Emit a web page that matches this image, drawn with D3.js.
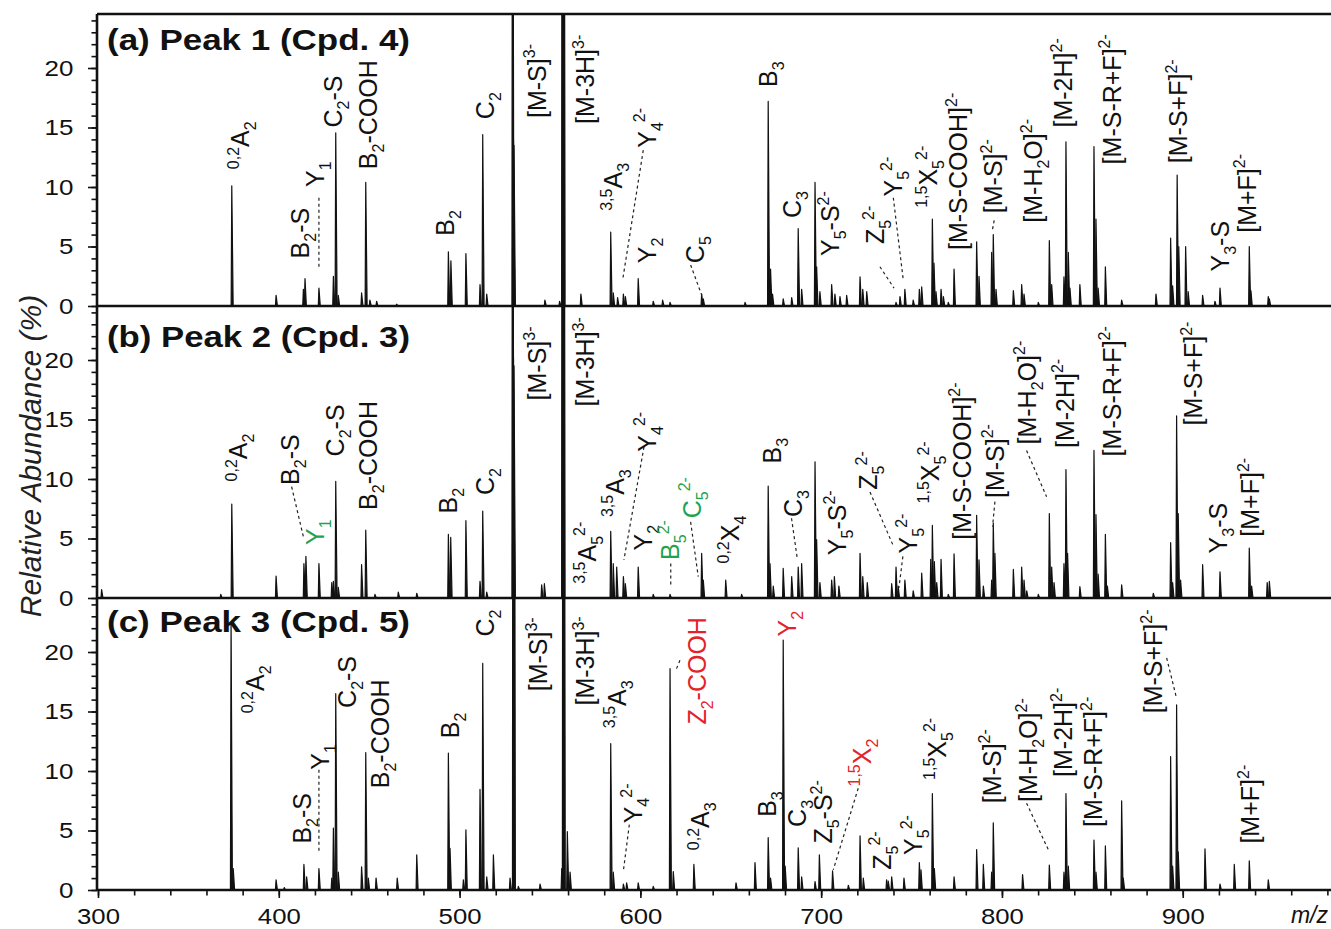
<!DOCTYPE html>
<html>
<head>
<meta charset="utf-8">
<script src="https://cdn.jsdelivr.net/npm/d3@7"></script>
<style>
  body { margin: 0; background: #fff; }
  svg { font-family: "Liberation Sans", Arial, sans-serif; }
</style>
</head>
<body>
<div id="chart"></div>
<script>
// peak lists: [m/z, relative abundance %]
const peaksA = [
  [374.0,10.1],[398.5,0.9],[413.6,1.4],[414.5,2.3],[422.2,1.5],[430.2,2.5],[431.5,14.55],[432.9,0.9],[445.8,1.1],[448.1,10.4],[450.4,0.5],[454.1,0.4],[465.2,0.15],
  [493.8,4.55],[495.2,3.8],[503.5,4.4],[511.3,1.8],[512.8,14.4],[515.0,1.0],
  [529.3,60],[529.8,14.0],[530.1,13.5],[547.2,0.5],[555.3,0.4],[556.8,80],[557.2,80],[557.6,80],[567.1,1.0],
  [583.6,6.2],[585.0,1.1],[587.4,0.7],[590.6,1.0],[591.7,0.8],[598.8,2.3],[607.1,0.4],[612.3,0.5],[616.4,0.3],[633.9,1.0],[634.8,0.6],[657.9,0.3],
  [670.7,17.2],[672.0,3.1],[673.1,1.0],[679.0,0.6],[683.7,0.7],[687.3,6.5],[689.2,1.4],[696.6,10.4],[697.5,3.3],[699.3,1.2],[705.8,1.8],[707.6,1.0],[710.4,0.8],[714.1,0.9],[721.5,2.45],[723.0,1.4],[725.2,1.2],
  [741.4,0.3],[743.6,0.8],[746.3,1.4],[750.9,0.5],[754.3,1.4],[755.6,1.6],[761.5,7.3],[762.4,3.6],[763.5,1.2],[766.3,1.4],[767.6,0.8],[770.3,0.3],[773.5,3.1],
  [786.0,5.4],[787.3,2.5],[794.3,4.5],[795.2,6.0],[796.7,1.4],[806.3,1.3],[810.9,1.8],[812.2,1.0],[820.1,0.3],[826.2,5.5],[827.5,1.8],
  [834.3,2.45],[835.4,13.8],[836.7,4.5],[837.6,1.5],[843.1,1.8],[850.9,13.4],[852.0,7.3],[853.2,1.5],[857.2,3.3],[866.2,0.5],[885.2,1.0],
  [893.3,5.7],[894.4,1.7],[896.9,11.0],[897.8,5.0],[901.6,5.0],[903.0,1.2],[911.0,0.9],[917.8,0.4],[920.6,1.5],[936.8,5.0],[937.7,1.3],[947.3,0.8],[947.9,0.6]
];
const peaksB = [
  [302.0,0.7],[367.9,0.3],[374.0,7.9],[398.5,1.85],[413.9,2.9],[415.0,3.5],[422.2,2.9],[429.3,1.3],[430.2,1.4],[431.5,9.8],[432.9,0.9],[445.8,2.8],[448.1,5.7],[453.2,0.3],[466.1,0.5],[476.3,0.4],
  [493.8,5.35],[495.1,5.1],[503.5,6.5],[511.3,1.4],[512.8,7.3],[515.0,0.5],
  [529.3,60],[529.8,20.2],[530.1,19.5],[545.4,1.1],[546.9,1.2],[556.8,80],[557.2,80],[557.6,80],
  [583.6,5.6],[585.0,2.9],[586.9,2.6],[590.6,1.8],[591.7,1.2],[598.8,2.6],[607.1,0.3],[616.4,0.3],[633.9,3.75],[634.8,1.5],[647.2,1.5],[656.0,0.3],
  [670.7,9.4],[671.7,2.9],[673.5,1.0],[679.0,2.5],[683.7,1.8],[687.3,2.6],[689.2,2.9],[696.6,11.45],[697.5,4.9],[699.3,1.3],[705.8,1.5],[707.3,1.8],[709.8,1.0],[721.5,3.75],[723.0,1.8],[725.5,1.3],
  [739.0,1.2],[741.4,2.6],[742.6,1.0],[746.3,1.5],[750.9,0.6],[755.6,2.1],[760.6,3.25],[761.5,6.1],[762.6,3.05],[763.9,1.3],[766.3,3.25],[770.3,0.3],[773.5,3.7],
  [786.0,6.95],[787.3,3.2],[789.7,1.0],[794.3,1.5],[795.2,6.3],[796.1,3.75],[806.3,2.4],[810.9,2.6],[812.2,1.5],[813.7,0.6],[820.1,0.3],[826.2,7.1],[827.5,2.6],[828.8,1.3],
  [834.3,2.9],[835.4,10.8],[836.3,3.75],[843.1,0.95],[850.9,12.4],[852.0,7.0],[853.2,2.0],[857.2,5.35],[858.3,1.0],[866.2,1.1],[883.7,0.4],
  [893.3,4.65],[894.4,1.3],[896.6,15.3],[897.5,7.1],[898.8,1.5],[911.0,2.8],[920.6,2.2],[936.8,4.2],[938.1,1.0],[946.7,1.3],[947.9,1.4]
];
const peaksC = [
  [373.6,22.5],[374.8,1.8],[398.5,0.85],[403.0,0.2],[413.9,2.15],[415.4,1.1],[422.2,1.8],[429.3,1.0],[430.2,5.2],[431.5,16.5],[432.9,1.5],[445.8,1.95],[448.1,11.55],[449.5,1.0],[453.8,1.0],[465.5,1.0],[476.3,2.95],
  [493.8,11.5],[494.7,3.5],[502.1,0.85],[503.5,5.05],[511.3,8.45],[512.8,19.05],[515.0,1.1],[518.7,2.95],[527.9,1.0],
  [529.6,80],[530.1,80],[532.5,0.3],[544.5,0.5],[556.5,1.8],[557.2,80],[557.7,80],[559.6,4.9],[561.1,1.5],
  [583.6,12.3],[585.0,1.5],[590.6,0.5],[592.4,0.6],[598.8,0.6],[607.1,0.3],[616.4,18.6],[618.2,1.55],[629.6,2.15],[652.9,0.6],
  [663.4,2.3],[670.7,4.4],[672.0,1.0],[679.0,21.0],[680.1,2.0],[687.3,3.55],[689.2,1.1],[696.6,0.7],[699.0,2.95],[706.3,1.6],[715.0,0.4],[721.5,4.55],[723.3,1.0],
  [736.2,0.85],[737.1,0.75],[739.0,1.1],[745.8,1.0],[754.3,2.3],[755.2,1.7],[761.5,8.1],[762.6,1.8],[773.5,1.1],
  [786.0,3.4],[789.7,2.15],[794.3,1.5],[795.2,5.65],[811.4,1.3],[826.2,2.1],[834.3,1.5],[835.4,8.1],[836.7,2.0],[850.9,4.2],[852.0,1.5],[857.2,3.7],[866.2,7.5],[867.1,1.0],
  [893.3,11.2],[894.4,2.0],[896.6,15.55],[897.5,3.2],[912.3,3.45],[920.6,0.5],[928.5,2.15],[936.8,2.45],[947.3,0.85]
];

// fragment labels: [text, m/z, abundance at label foot, tone]
const labelsA = [
  ["^{0,2}A_{2}",378.8,11.5],["B_{2}-S",411.7,4.0],["Y_{1}",420.0,10.0],["C_{2}-S",430.1,15.0],["B_{2}-COOH",449.5,11.5],
  ["B_{2}",491.9,5.9],["C_{2}",514.0,15.7],["[M-S]^{3-}",542.6,15.8],["[M-3H]^{3-}",569.4,15.3],["^{3,5}A_{3}",585.0,8.0],
  ["Y_{4}^{2-}",603.5,13.3],["Y_{2}",603.5,3.6],["C_{5}",630.2,3.6],["B_{3}",670.7,18.4],["C_{3}",683.7,7.4],
  ["Y_{5}-S^{2-}",704.9,4.2],["Z_{5}^{2-}",729.8,5.2],["Y_{5}^{2-}",739.9,9.2],["^{1,5}X_{5}^{2-}",759.2,8.25],
  ["[M-S-COOH]^{2-}",775.8,4.7],["[M-S]^{2-}",795.2,7.8],["[M-H_{2}O]^{2-}",817.3,7.0],["[M-2H]^{2-}",834.0,15.0],
  ["[M-S-R+F]^{2-}",860.7,11.9],["[M-S+F]^{2-}",897.5,12.0],["Y_{3}-S",920.6,2.9],["[M+F]^{2-}",935.3,6.15]
];
const labelsB = [
  ["^{0,2}A_{2}",377.6,9.8],["B_{2}-S",406.2,9.5],["Y_{1}",420.0,4.45,"g"],["C_{2}-S",431.1,11.9],["B_{2}-COOH",449.5,7.4],
  ["B_{2}",493.6,7.1],["C_{2}",514.0,8.65],["[M-S]^{3-}",542.6,16.6],["[M-3H]^{3-}",569.4,16.1],["^{3,5}A_{5}^{2-}",570.3,1.2],
  ["^{3,5}A_{3}",585.9,6.8],["Y_{4}^{2-}",603.5,12.3],["Y_{2}",601.6,4.0],["B_{5}^{2-}",616.4,3.2,"g"],["C_{5}^{2-}",628.4,6.7,"g"],
  ["^{0,2}X_{4}",649.6,2.9],["B_{3}",672.6,11.3],["C_{3}",684.6,6.8],["Y_{5}-S^{2-}",708.5,3.6],["Z_{5}^{2-}",726.1,9.1],
  ["Y_{5}^{2-}",748.2,3.75],["^{1,5}X_{5}^{2-}",760.2,7.95],["[M-S-COOH]^{2-}",777.7,4.9],["[M-S]^{2-}",796.1,8.4],
  ["[M-H_{2}O]^{2-}",813.6,12.9],["[M-2H]^{2-}",834.8,12.6],["[M-S-R+F]^{2-}",860.7,11.9],["[M-S+F]^{2-}",905.8,14.5],
  ["Y_{3}-S",919.6,3.75],["[M+F]^{2-}",937.2,5.15]
];
const labelsC = [
  ["^{0,2}A_{2}",386.8,14.85],["B_{2}-S",412.7,3.9],["Y_{1}",422.8,10.1],["C_{2}-S",437.6,15.3],["B_{2}-COOH",456.0,8.55],
  ["B_{2}",494.7,12.75],["C_{2}",514.0,21.3],["[M-S]^{3-}",543.5,16.7],["[M-3H]^{3-}",569.4,15.5],["^{3,5}A_{3}",586.9,13.6],
  ["Y_{4}^{2-}",596.1,5.6],["Z_{2}-COOH",631.1,13.9,"r"],["^{0,2}A_{3}",633.0,3.35],["B_{3}",669.8,6.15],["Y_{2}",680.9,21.3,"r"],
  ["C_{3}",686.4,5.3],["Z_{5}-S^{2-}",701.2,3.9],["^{1,5}X_{2}",722.4,8.7,"r"],["Z_{5}^{2-}",733.6,1.7],["Y_{5}^{2-}",750.9,2.95],
  ["^{1,5}X_{5}^{2-}",763.8,9.25],["[M-S]^{2-}",794.3,7.3],["[M-H_{2}O]^{2-}",814.5,7.4],["[M-2H]^{2-}",834.0,9.5],
  ["[M-S-R+F]^{2-}",850.5,5.3],["[M-S+F]^{2-}",883.7,14.85],["[M+F]^{2-}",937.2,3.9]
];

// dashed leader lines: [[m/z, abundance], [m/z, abundance]]
const leadersA = [
  [[422.2,9.1],[422.2,3.3]],[[601.6,13.1],[590.2,2.2]],[[627.8,3.45],[633.9,0.92]],
  [[732.5,3.3],[740.3,1.5]],[[739.9,9.1],[745.4,2.2]],[[795.7,7.2],[794.5,6.2]]
];
const leadersB = [
  [[407.1,9.35],[413.6,5.15]],[[602.0,12.7],[590.9,3.2]],[[616.8,2.9],[616.8,1.1]],[[627.8,6.4],[632.0,1.8]],
  [[683.6,6.7],[686.8,3.3]],[[727.0,8.9],[739.7,4.45]],[[745.2,3.5],[743.0,0.85]],[[796.1,8.1],[794.8,6.0]],
  [[813.6,12.4],[824.7,8.5]]
];
const leadersC = [
  [[422.2,10.1],[422.2,3.1]],[[593.9,5.5],[590.5,1.5]],[[621.9,19.3],[619.7,18.5]],[[720.5,8.55],[706.7,1.7]],
  [[813.6,7.3],[825.6,3.4]],[[891.1,19.5],[896.6,16.1]]
];

const panelTitles = ["(a) Peak 1 (Cpd. 4)", "(b) Peak 2 (Cpd. 3)", "(c) Peak 3 (Cpd. 5)"];
const yMajor = [0, 5, 10, 15, 20];
const xMajor = [300, 400, 500, 600, 700, 800, 900];

const panels = [
  { peaks: peaksA, labels: labelsA, leaders: leadersA },
  { peaks: peaksB, labels: labelsB, leaders: leadersB },
  { peaks: peaksC, labels: labelsC, leaders: leadersC }
];

const W = 1331, H = 929;
const left = 97, right = 1331;
const panelTop = [14, 306, 598], panelH = 292;
const titleDy = [36, 41, 34];
const tone = { k: "#111", g: "#1fa34f", r: "#e3232b" };
const labelFs = 25;

const svg = d3.select("#chart").append("svg")
  .attr("width", W).attr("height", H);

const x = d3.scaleLinear().domain([300, 982]).range([98, 1331]);

// append text with _{sub} and ^{sup} markup as tspans
function richText(text, str, fs) {
  const parts = str.match(/\^\{[^}]*\}|_\{[^}]*\}|[^_^]+/g);
  let off = 0;
  parts.forEach(p => {
    const kind = p[0] === "^" ? "sup" : p[0] === "_" ? "sub" : "n";
    const txt = kind === "n" ? p : p.slice(2, -1);
    const target = kind === "sup" ? -0.42 * fs : kind === "sub" ? 0.28 * fs : 0;
    text.append("tspan")
      .attr("dy", target - off)
      .attr("font-size", kind === "n" ? fs : fs * 0.64)
      .text(txt);
    off = target;
  });
}

panels.forEach((p, i) => {
  const top = panelTop[i];
  const y = d3.scaleLinear().domain([0, panelH / 11.9]).range([top + panelH, top]);
  const g = svg.append("g");

  g.append("clipPath").attr("id", "clip" + i)
    .append("rect").attr("x", left).attr("y", top).attr("width", right - left).attr("height", panelH);

  const spike = d3.line().x(d => x(d[0])).y(d => y(d[1]));
  g.append("g").attr("clip-path", `url(#clip${i})`)
    .selectAll("path").data(p.peaks).join("path")
    .attr("d", d => spike([[d[0] - 0.35, 0], [d[0], d[1]], [d[0] + 0.75, 0]]))
    .attr("fill", "#111").attr("stroke", "#111").attr("stroke-width", 1.2)
    .attr("stroke-linejoin", "round");

  // y axis: minor and major ticks
  g.append("g").attr("transform", `translate(${left},0)`)
    .call(d3.axisLeft(y).tickValues(d3.range(0, 25)).tickSize(5.5).tickFormat(""))
    .call(a => a.select(".domain").remove())
    .call(a => a.selectAll("line").attr("stroke", "#111").attr("stroke-width", 1.6));
  g.append("g").attr("transform", `translate(${left},0)`)
    .call(d3.axisLeft(y).tickValues(yMajor).tickSize(9).tickFormat(d3.format("d")))
    .call(a => a.select(".domain").remove())
    .call(a => a.selectAll("line").attr("stroke", "#111").attr("stroke-width", 1.6))
    .call(a => a.selectAll("text")
      .attr("x", -20).attr("font-size", 22).attr("fill", "#111")
      .attr("font-family", '"Liberation Sans", Arial, sans-serif')
      .attr("transform", "scale(1.18,1)"));

  // leader lines
  g.selectAll("line.leader").data(p.leaders).join("line")
    .attr("class", "leader")
    .attr("x1", d => x(d[0][0])).attr("y1", d => y(d[0][1]))
    .attr("x2", d => x(d[1][0])).attr("y2", d => y(d[1][1]))
    .attr("stroke", "#222").attr("stroke-width", 1.2).attr("stroke-dasharray", "3,3");

  // rotated fragment labels
  p.labels.forEach(l => {
    const t = g.append("text")
      .attr("transform", `translate(${x(l[1])},${y(l[2])}) rotate(-90)`)
      .attr("y", 0.36 * labelFs)
      .attr("font-size", labelFs)
      .attr("fill", tone[l[3] || "k"]);
    richText(t, l[0], labelFs);
  });

  g.append("text")
    .attr("x", 107).attr("y", top + titleDy[i])
    .attr("font-size", 30).attr("font-weight", "bold").attr("fill", "#111")
    .attr("textLength", 303).attr("lengthAdjust", "spacingAndGlyphs")
    .text(panelTitles[i]);
});

// frame
const frame = svg.append("g").attr("stroke", "#111").attr("stroke-width", 2.6).attr("fill", "none");
[14, 306, 598, 890].forEach(v => frame.append("line").attr("x1", left).attr("x2", right).attr("y1", v).attr("y2", v));
frame.append("line").attr("x1", left).attr("x2", left).attr("y1", 14).attr("y2", 890);

// x axis
const xa = svg.append("g").attr("transform", "translate(0,890)");
xa.append("g")
  .call(d3.axisBottom(x).tickValues(d3.range(300, 981, 20)).tickSize(5.5).tickFormat(""))
  .call(a => a.select(".domain").remove())
  .call(a => a.selectAll("line").attr("stroke", "#111").attr("stroke-width", 1.6));
xa.append("g")
  .call(d3.axisBottom(x).tickValues(xMajor).tickSize(8).tickPadding(10).tickFormat(d3.format("d")))
  .call(a => a.select(".domain").remove())
  .call(a => a.selectAll("line").attr("stroke", "#111").attr("stroke-width", 1.6))
  .call(a => a.selectAll("text")
    .attr("font-size", 23).attr("fill", "#111")
    .attr("font-family", '"Liberation Sans", Arial, sans-serif')
    .attr("transform", "scale(1.12,1)"));

svg.append("text")
  .attr("x", 1328).attr("y", 923).attr("text-anchor", "end")
  .attr("font-size", 23).attr("font-style", "italic").attr("fill", "#111")
  .text("m/z");

svg.append("text")
  .attr("transform", "translate(41,456) rotate(-90)")
  .attr("text-anchor", "middle")
  .attr("font-size", 30).attr("font-style", "italic").attr("fill", "#222")
  .text("Relative Abundance (%)");
</script>
</body>
</html>
